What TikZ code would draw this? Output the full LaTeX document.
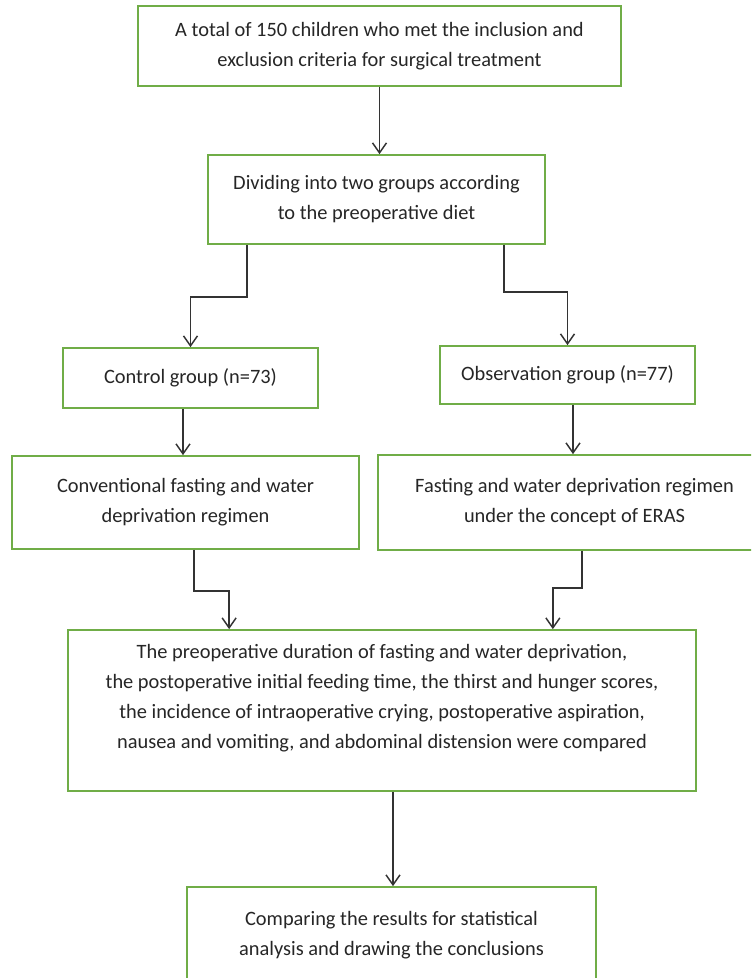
\documentclass[tikz,border=0pt]{standalone}
\usepackage{fontspec}
\setmainfont{Carlito}
\usepackage{xcolor}
\usetikzlibrary{calc,positioning,arrows.meta}
\definecolor{boxgreen}{HTML}{70AD47}
\definecolor{txtgray}{HTML}{262626}
\definecolor{arrgray}{HTML}{333333}
\tikzset{
  box/.style={draw=boxgreen, line width=1.3pt, fill=white, align=center,
    inner sep=0pt, text=txtgray,
    font=\fontsize{15.3pt}{22.5pt}\selectfont},
  arr/.style={draw=arrgray, line width=1.1pt,
    -{Straight Barb[length=7.5pt,width=10.5pt]}},
}

\begin{document}
\begin{tikzpicture}[x=0.75pt,y=-0.75pt]
    \useasboundingbox (0,0) rectangle (751,978);
    \clip (0,0) rectangle (751,978);

    % boxes, placed at their centres
    \node[box, minimum width=362.25pt, minimum height=60pt] (top) at (379.5,46)
        {A total of 150 children who met the inclusion and\\exclusion criteria for surgical treatment};
    \node[box, minimum width=252.75pt, minimum height=66.75pt] (div) at (376.5,199.5)
        {Dividing into two groups according\\to the preoperative diet};
    \node[box, minimum width=191.25pt, minimum height=45pt] (ctrl) at (190.5,378)
        {Control group (n=73)};
    \node[box, minimum width=191.25pt, minimum height=43.5pt] (obs) at (567.5,375)
        {Observation group (n=77)};
    \node[box, minimum width=260.25pt, minimum height=69.75pt] (conv) at (185.5,502.5)
        {Conventional fasting and water\\deprivation regimen};
    \node[box, minimum width=294.75pt, minimum height=71.25pt] (fast) at (574.5,502.5)
        {Fasting and water deprivation regimen\\under the concept of ERAS};
    \node[box, minimum width=471pt, minimum height=120.75pt] (comp) at (382,710.5) {};
    \node[align=center, text=txtgray, font=\fontsize{15.3pt}{22.5pt}\selectfont] (compTxt) at (382,698)
        {The preoperative duration of fasting and water deprivation,\\
         the postoperative initial feeding time, the thirst and hunger scores,\\
         the incidence of intraoperative crying, postoperative aspiration,\\
         nausea and vomiting, and abdominal distension were compared};
    \node[box, minimum width=306.75pt, minimum height=72pt] (concl) at (391.5,935)
        {Comparing the results for statistical\\analysis and drawing the conclusions};

    % straight arrows
    \foreach \a/\b/\dx in {top/div/0, ctrl/conv/-7.5, obs/fast/5.5, comp/concl/11} {
        \draw[arr] ($(\a.south)+(\dx,0)$) coordinate (s) -- (s |- \b.north);
    }

    % stepped arrows
    \draw[arr] ($(div.south west)+(40,0)$) -- ++(0,52) -| (ctrl.north);
    \draw[arr] ($(div.south east)+(-42,0)$) -- ++(0,47) -| (obs.north);
    \draw[arr] ($(conv.south)+(8.5,0)$) -- ++(0,41) -| ($(comp.north west)+(162,0)$);
    \draw[arr] ($(fast.south)+(7.5,0)$) -- ++(0,37) -| ($(comp.north east)+(-144,0)$);
\end{tikzpicture}
\end{document}
